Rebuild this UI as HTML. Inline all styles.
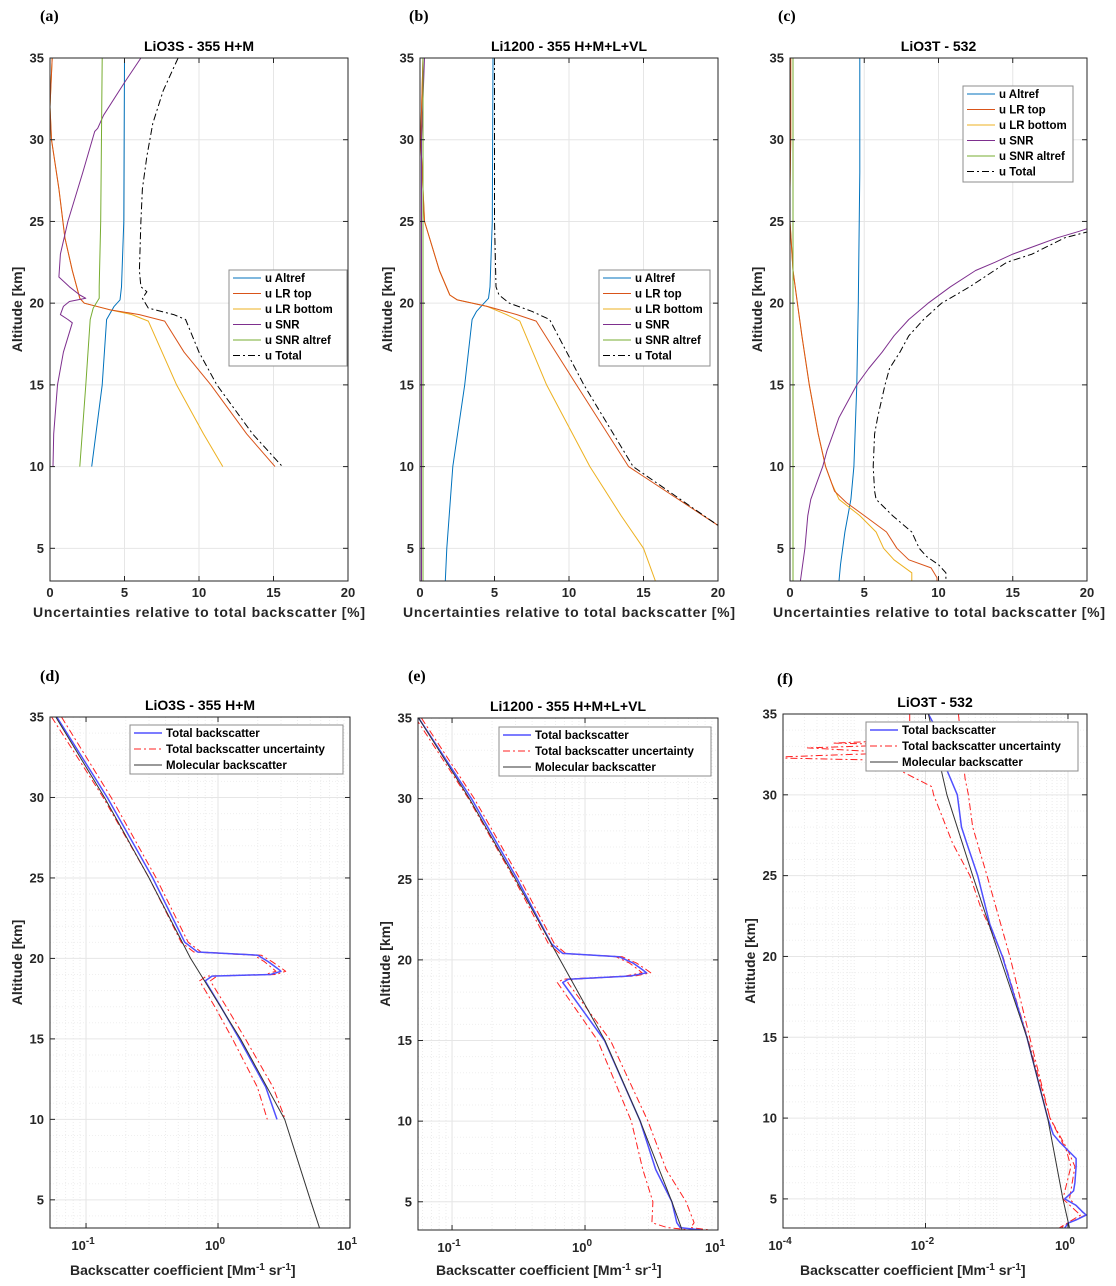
<!DOCTYPE html>
<html><head><meta charset="utf-8">
<style>
html,body{margin:0;padding:0;background:#fff;}
svg{display:block;font-family:"Liberation Sans",Arial,sans-serif;}
.tk{font-size:13px;font-weight:bold;fill:#262626;}
.ttl{font-size:14px;font-weight:bold;fill:#000;}
.lab{font-size:14px;font-weight:bold;fill:#262626;}
.pl{font-family:"Liberation Serif",serif;font-size:16px;font-weight:bold;fill:#000;}
.lg{font-size:11.5px;font-weight:bold;fill:#000;}
</style></head>
<body>
<svg id="fig" width="1116" height="1286" viewBox="0 0 1116 1286" xmlns="http://www.w3.org/2000/svg"></svg>
<script>
// ---------- Panel (a) data: altitude [km], uncertainty [%] ----------
const aAltrefAlt=[35,25,21,20.2,19.8,19,15,10];
const aAltrefVal=[5.0,4.95,4.8,4.7,4.3,3.8,3.5,2.8];
const aLRtopAlt=[35,33,32,30,27,24,22,20.3,20.0,19.6,19.3,18.9,17,15,12,10];
const aLRtopVal=[0.15,0.05,0,0.1,0.6,1.0,1.5,2.0,2.3,4.0,6.0,7.7,9.0,10.8,13.2,15.1];
const aLRbotAlt=[35,33,32,30,27,24,22,20.3,20.0,19.6,19.3,18.9,15,12,10];
const aLRbotVal=[0.15,0.05,0,0.1,0.6,1.0,1.5,2.0,2.3,4.0,5.5,6.6,8.5,10.3,11.6];
const aSNRAlt=[35,33.5,31.5,30.7,30.5,28,25,23,21.6,21,20.5,20.3,20.1,19.8,19.3,19,18.8,17,15,12,10];
const aSNRVal=[6.1,5.0,3.6,3.2,3.0,2.2,1.2,0.7,0.6,1.3,2.0,2.4,1.3,0.9,0.7,1.2,1.5,0.9,0.5,0.25,0.2];
const aSNRrAlt=[35,25,21,20.3,19.7,19,15,10];
const aSNRrVal=[3.5,3.4,3.3,3.3,2.9,2.7,2.4,2.0];
const aTotAlt=[35,33,31,29,27,25,22,21,20.7,20.3,19.7,19.3,19,17,15,12,10];
const aTotVal=[8.6,7.6,6.9,6.5,6.2,6.1,6.0,6.1,6.5,6.2,6.6,8.3,9.1,10,11.2,13.6,15.6];
// ---------- Panel (b) ----------
const bAltrefAlt=[35,25,21,20.3,19.5,19,15,10,5,3];
const bAltrefVal=[4.9,4.85,4.7,4.6,3.8,3.5,3.0,2.2,1.8,1.7];
const bLRtopAlt=[35,30,25,22,20.5,20.2,19.8,19.3,18.9,15,10,6.4,3];
const bLRtopVal=[0.2,0.05,0.3,1.3,2.0,2.5,4.5,6.5,7.8,10.5,14,20,23];
const bLRbotAlt=[35,30,25,22,20.5,20.2,19.8,19.3,18.9,15,10,7,5,3];
const bLRbotVal=[0.2,0.05,0.3,1.3,2.0,2.5,4.5,5.8,6.7,8.5,11.4,13.5,15,15.8];
const bSNRAlt=[35,30,20,3];
const bSNRVal=[0.3,0.1,0.1,0.1];
const bSNRrAlt=[35,3];
const bSNRrVal=[0.2,0.2];
const bTotAlt=[35,25,21,20.5,20,19.5,19,15,10,6.4,3];
const bTotVal=[5.0,5.0,5.1,5.3,6.0,7.5,8.7,11,14.3,20,23];
// ---------- Panel (c) ----------
const cAltrefAlt=[35,28,20,15,10,8,6,4,3];
const cAltrefVal=[4.7,4.7,4.6,4.5,4.3,4.1,3.7,3.4,3.3];
const cLRtopAlt=[35,30,27,25,22,20,18,15,12,10,8.5,7.8,7,6,5,4.3,3.8,3.2,3];
const cLRtopVal=[0.05,0.05,0,0,0.2,0.5,0.8,1.3,1.9,2.4,3.0,3.8,5.0,6.5,7.2,8.0,9.5,9.9,9.9];
const cLRbotAlt=[35,30,27,25,22,20,18,15,12,10,9,8,7,6,5,4.3,3.5,3];
const cLRbotVal=[0.05,0.05,0,0,0.2,0.5,0.8,1.3,1.9,2.4,2.8,3.3,4.7,5.8,6.3,7.0,8.2,8.2];
const cSNRAlt=[24.7,24.4,24,23.5,23,22.5,22,21,20,19,18,17,16,15,13,11,10,9,8,7,5,3];
const cSNRVal=[20.5,19.5,18,16.5,15,13.8,12.5,10.8,9.3,8,7,6.2,5.3,4.5,3.3,2.5,2.2,1.8,1.4,1.2,1.0,0.7];
const cSNRrAlt=[35,3];
const cSNRrVal=[0.2,0.2];
const cTotAlt=[24.4,24,23,22.5,21,20,19,18,17,16,15,13,12,10,8.5,8,7,6,5,4.5,4,3.5,3];
const cTotVal=[20.2,18.5,16.3,14.6,12.1,10.2,9,8,7.4,6.7,6.4,5.9,5.7,5.6,5.7,5.8,6.9,8.2,8.7,9.2,10,10.5,10.5];
// ---------- Panel (d): backscatter [Mm-1 sr-1], uncertainty [%] ----------
const dMolAlt=[35,30,25,20,15,10,5,3.2];
const dMolVal=[0.059,0.138,0.30,0.62,1.48,3.2,5.0,5.9];
const dTotAlt=[35,30,25,21,20.4,20.2,19.8,19.4,19.2,19.0,18.9,18.6,17,15,12,10];
const dTotVal=[0.06,0.145,0.32,0.56,0.70,2.0,2.4,2.8,3.0,2.5,0.9,0.8,1.05,1.45,2.3,2.8];
const dUnc=[8.6,6.9,6.1,6.1,6.3,6.4,6.6,8,8.5,9,9.1,9.3,10,11.2,13.6,15.6];
// ---------- Panel (e) ----------
const eMolAlt=[35,30,25,20,15,10,5,3.2];
const eMolVal=[0.056,0.135,0.30,0.65,1.41,2.6,4.5,5.4];
const eTotAlt=[35,30,25,21,20.4,20.2,19.8,19.4,19.2,19.0,18.8,18.6,15,10,7,5,3.7,3.4,3.25];
const eTotVal=[0.056,0.14,0.31,0.56,0.68,1.8,2.3,2.7,2.9,2.2,0.75,0.68,1.4,2.6,3.4,4.5,4.9,5.2,7.5];
const eUnc=[5,5,5,5.1,5.3,5.5,6,7,7.5,8.5,8.7,9,11,14.3,20,28,35,20,15];
// ---------- Panel (f) ----------
const fMolAlt=[35,30,25,20,15,10,5,3.2];
const fMolVal=[0.011,0.02,0.046,0.11,0.265,0.52,0.85,1.05];
const fTotAlt=[35,34,32,30,28,27,25,22,20,15,10,9,8.5,8,7.5,7,6,5.5,5,4.6,4.2,4,3.7,3.5,3.2];
const fTotVal=[0.011,0.0145,0.018,0.028,0.032,0.038,0.054,0.08,0.12,0.265,0.52,0.62,0.77,1.0,1.3,1.3,1.25,1.2,0.9,1.3,1.6,1.8,1.3,1.0,0.9];
const fHiAlt=[35,31,30,28,25,20,15,10,8,7,5,4,3.5,3.2];
const fHiVal=[0.029,0.036,0.040,0.046,0.073,0.153,0.29,0.56,1.0,1.25,1.05,1.75,1.0,0.8];
const fLoAlt=[35,33.4,33.2,33.1,32.9,32.6,32.3,32.1,31.5,30.5,30,29,27,25,23,20,15,10,8,7,5,4,3.2];
const fLoVal=[0.006,0.006,0.0005,0.005,0.00022,0.004,0.00005,0.007,0.0044,0.0123,0.013,0.016,0.024,0.042,0.06,0.122,0.27,0.56,0.95,1.1,0.85,1.5,0.75];
// ---------- tick labels ----------
const linTicks=[0,5,10,15,20];
const altTicks=[5,10,15,20,25,30,35];
const topLegend=['u Altref','u LR top','u LR bottom','u SNR','u SNR altref','u Total'];
const botLegend=['Total backscatter','Total backscatter uncertainty','Molecular backscatter'];

const NS='http://www.w3.org/2000/svg';
const svg=document.getElementById('fig');
function mk(tag,attrs,parent){const e=document.createElementNS(NS,tag);for(const k in attrs)e.setAttribute(k,attrs[k]);(parent||svg).appendChild(e);return e;}

const C={altref:'#0072BD',lrtop:'#D95319',lrbot:'#EDB120',snr:'#7E2F8E',snrr:'#77AC30',tot:'#000',blue:'#5050ff',red:'#ff2020',mol:'#333'};
let clipN=0;

function makePanel(p){
  const g=mk('g',{});
  
  
  const sx=v=>{ if(p.log){const l=Math.log10(Math.max(v,1e-9));return p.x0+(l-p.lmin)/(p.lmax-p.lmin)*(p.x1-p.x0);} return p.x0+(v-p.xmin)/(p.xmax-p.xmin)*(p.x1-p.x0);};
  const sy=a=>p.y0+(35-a)/(35-p.ymin)*(p.y1-p.y0);
  mk('rect',{x:p.x0,y:p.y0,width:p.x1-p.x0,height:p.y1-p.y0,fill:'#fff'},g);
  if(p.log){
    for(let d=Math.floor(p.lmin);d<=Math.ceil(p.lmax);d++){
      for(let m=1;m<10;m++){const v=m*Math.pow(10,d);const x=sx(v);if(x<p.x0+0.5||x>p.x1-0.5)continue;
        const major=(m===1&&(d%p.tstep===0));
        const gl=mk('line',{x1:x,x2:x,y1:p.y0,y2:p.y1,stroke:major?'#e4e4e4':'#ececec','stroke-width':1,'stroke-dasharray':major?'':'1 2'},g);
        
        }
    }
    for(let a=4;a<35;a++){if(a%5===0)continue;const y=sy(a);
      const gl=mk('line',{x1:p.x0,x2:p.x1,y1:y,y2:y,stroke:'#efefef','stroke-width':1,'stroke-dasharray':'1 2'},g);
      
      }
  } else {
    linTicks.forEach(t=>{const x=sx(t);const gl=mk('line',{x1:x,x2:x,y1:p.y0,y2:p.y1,stroke:'#e6e6e6','stroke-width':1},g);
      
      });
  }
  altTicks.forEach(t=>{const y=sy(t);const gl=mk('line',{x1:p.x0,x2:p.x1,y1:y,y2:y,stroke:'#e6e6e6','stroke-width':1},g);
    
    });
  const cid='clip'+(clipN++);
  const cp=mk('clipPath',{id:cid},g);mk('rect',{x:p.x0,y:p.y0,width:p.x1-p.x0,height:p.y1-p.y0},cp);
  const lines=mk('g',{'clip-path':'url(#'+cid+')'},g);
  
  
  p.series.forEach(s=>{
    const pts=s.alt.map((a,i)=>sx(s.val[i]).toFixed(1)+','+sy(a).toFixed(1)).join(' ');
    const pl=mk('polyline',{points:pts,fill:'none',stroke:s.color,'stroke-width':s.w||1,'stroke-dasharray':s.dash||'','stroke-linejoin':'round'},lines);
    
    
  });
  const bx=mk('rect',{x:p.x0,y:p.y0,width:p.x1-p.x0,height:p.y1-p.y0,fill:'none',stroke:'#262626','stroke-width':1},g);
  
  
  altTicks.forEach(t=>{const y=sy(t);
    mk('line',{x1:p.x0,x2:p.x0+5,y1:y,y2:y,stroke:'#262626'},g);
    mk('line',{x1:p.x1,x2:p.x1-5,y1:y,y2:y,stroke:'#262626'},g);
    const tl=mk('text',{x:p.x0-6,y:y+4.5,'text-anchor':'end',class:'tk'},g);tl.textContent=t;
    
    });
  if(p.log){
    for(let d=Math.ceil(p.lmin);d<=Math.floor(p.lmax);d++){if(d%p.tstep!==0)continue;const x=sx(Math.pow(10,d));
      mk('line',{x1:x,x2:x,y1:p.y1,y2:p.y1-5,stroke:'#262626'},g);
      mk('line',{x1:x,x2:x,y1:p.y0,y2:p.y0+5,stroke:'#262626'},g);
      const tl=mk('text',{x:x-3,y:p.y1+22,'text-anchor':'middle',class:'tk'},g);
      
      
      const t1=mk('tspan',{},tl);t1.textContent='10';
      const t2=mk('tspan',{dy:-6,'font-size':'10px'},tl);t2.textContent=String(d);}
  } else {
    linTicks.forEach(t=>{const x=sx(t);
      mk('line',{x1:x,x2:x,y1:p.y1,y2:p.y1-5,stroke:'#262626'},g);
      mk('line',{x1:x,x2:x,y1:p.y0,y2:p.y0+5,stroke:'#262626'},g);
      const tl=mk('text',{x:x,y:p.y1+16,'text-anchor':'middle',class:'tk'},g);tl.textContent=t;
      
      });
  }
  const cx=(p.x0+p.x1)/2;
  const tt=mk('text',{x:cx,y:p.y0-7,'text-anchor':'middle',class:'ttl'},g);tt.textContent=p.title;
  
  
  const cy=(p.y0+p.y1)/2-10;
  const yl=mk('text',{x:0,y:0,'text-anchor':'middle',class:'lab',transform:'translate('+(p.x0-28)+','+cy+') rotate(-90)'},g);yl.textContent='Altitude [km]';
  
  
  const xl=mk('text',{x:p.xlx,y:p.xly,class:'lab'},g);
  
  
  if(p.log){
    const a1=mk('tspan',{},xl);a1.textContent='Backscatter coefficient [Mm';
    const a2=mk('tspan',{dy:-5,'font-size':'10px'},xl);a2.textContent='-1';
    const a3=mk('tspan',{dy:5},xl);a3.textContent=' sr';
    const a4=mk('tspan',{dy:-5,'font-size':'10px'},xl);a4.textContent='-1';
    const a5=mk('tspan',{dy:5},xl);a5.textContent=']';
  } else { xl.setAttribute('textLength',332);xl.textContent='Uncertainties relative to total backscatter [%]'; }
  const pl=mk('text',{x:p.plx,y:p.ply,class:'pl'},g);pl.textContent=p.plabel;
  
  
  const L=p.legend;
  const lg=mk('g',{},g);
  
  
  mk('rect',{x:L.x,y:L.y,width:L.w,height:L.h,fill:'#fff',stroke:'#8c8c8c','stroke-width':1},lg);
  L.items.forEach((it,i)=>{const yy=L.y+8+i*L.dy;
    const ln=mk('line',{x1:L.x+4,x2:L.x+L.lw,y1:yy,y2:yy,stroke:it.color,'stroke-width':it.w||1,'stroke-dasharray':it.dash||''},lg);
    
    
    const tx=mk('text',{x:L.x+L.lw+4,y:yy+4,class:'lg'},lg);tx.textContent=it.label;
    
    });
}

function topSeries(A){return [
  {name:'u-altref-line',alt:A[0],val:A[1],color:C.altref},
  {name:'u-lr-bottom-line',alt:A[4],val:A[5],color:C.lrbot},
  {name:'u-lr-top-line',alt:A[2],val:A[3],color:C.lrtop},
  {name:'u-snr-line',alt:A[6],val:A[7],color:C.snr},
  {name:'u-snr-altref-line',alt:A[8],val:A[9],color:C.snrr},
  {name:'u-total-line',alt:A[10],val:A[11],color:C.tot,dash:'7 3 2 3'}];}
function topLeg(x,y,w){const cs=[C.altref,C.lrtop,C.lrbot,C.snr,C.snrr,C.tot];
  return {x:x,y:y,w:w,h:96,dy:15.5,lw:32,items:topLegend.map((l,i)=>({label:l,color:cs[i],dash:i===5?'7 3 2 3':''}))};}
function botLeg(x,y,w){const cs=[C.blue,C.red,C.mol];const ds=['','7 3 2 3',''];
  return {x:x,y:y,w:w,h:49,dy:16,lw:32,items:botLegend.map((l,i)=>({label:l,color:cs[i],dash:ds[i],w:i===0?1.5:1}))};}
function botSeries(molA,molV,totA,totV,hiA,hiV,loA,loV){return [
  {name:'uncertainty-upper-line',alt:hiA,val:hiV,color:C.red,dash:'7 3 2 3'},
  {name:'uncertainty-lower-line',alt:loA,val:loV,color:C.red,dash:'7 3 2 3'},
  {name:'total-backscatter-line',alt:totA,val:totV,color:C.blue,w:1.5},
  {name:'molecular-backscatter-line',alt:molA,val:molV,color:C.mol}];}

makePanel({name:'panel-a',x0:50,x1:348,y0:58,y1:581,ymin:3,xmin:0,xmax:20,title:'LiO3S - 355 H+M',plabel:'(a)',plx:40,ply:21,xlx:33,xly:617,
  series:topSeries([aAltrefAlt,aAltrefVal,aLRtopAlt,aLRtopVal,aLRbotAlt,aLRbotVal,aSNRAlt,aSNRVal,aSNRrAlt,aSNRrVal,aTotAlt,aTotVal]),legend:topLeg(229,270,118)});
makePanel({name:'panel-b',x0:420,x1:718,y0:58,y1:581,ymin:3,xmin:0,xmax:20,title:'Li1200 - 355 H+M+L+VL',plabel:'(b)',plx:409,ply:21,xlx:403,xly:617,
  series:topSeries([bAltrefAlt,bAltrefVal,bLRtopAlt,bLRtopVal,bLRbotAlt,bLRbotVal,bSNRAlt,bSNRVal,bSNRrAlt,bSNRrVal,bTotAlt,bTotVal]),legend:topLeg(599,270,111)});
makePanel({name:'panel-c',x0:790,x1:1087,y0:58,y1:581,ymin:3,xmin:0,xmax:20,title:'LiO3T - 532',plabel:'(c)',plx:778,ply:21,xlx:773,xly:617,
  series:topSeries([cAltrefAlt,cAltrefVal,cLRtopAlt,cLRtopVal,cLRbotAlt,cLRbotVal,cSNRAlt,cSNRVal,cSNRrAlt,cSNRrVal,cTotAlt,cTotVal]),legend:topLeg(963,86,110)});

const dHi=dTotVal.map((v,i)=>v*(1+dUnc[i]/100)), dLo=dTotVal.map((v,i)=>v*(1-dUnc[i]/100));
const eHi=eTotVal.map((v,i)=>v*(1+eUnc[i]/100)), eLo=eTotVal.map((v,i)=>v*(1-eUnc[i]/100));
makePanel({name:'panel-d',log:true,tstep:1,x0:50,x1:350,y0:717,y1:1228,ymin:3.25,lmin:-1.273,lmax:1.0,title:'LiO3S - 355 H+M',plabel:'(d)',plx:40,ply:681,xlx:70,xly:1275,
  series:botSeries(dMolAlt,dMolVal,dTotAlt,dTotVal,dTotAlt,dHi,dTotAlt,dLo),legend:botLeg(130,725,213)});
makePanel({name:'panel-e',log:true,tstep:1,x0:418,x1:718,y0:718,y1:1230,ymin:3.25,lmin:-1.256,lmax:1.0,title:'Li1200 - 355 H+M+L+VL',plabel:'(e)',plx:408,ply:681,xlx:436,xly:1275,
  series:botSeries(eMolAlt,eMolVal,eTotAlt,eTotVal,eTotAlt,eHi,eTotAlt,eLo),legend:botLeg(499,727,212)});
makePanel({name:'panel-f',log:true,tstep:2,x0:783,x1:1087,y0:714,y1:1228,ymin:3.2,lmin:-4,lmax:0.267,title:'LiO3T - 532',plabel:'(f)',plx:777,ply:684,xlx:800,xly:1275,
  series:botSeries(fMolAlt,fMolVal,fTotAlt,fTotVal,fHiAlt,fHiVal,fLoAlt,fLoVal),legend:botLeg(866,722,212)});
</script>
</body></html>
